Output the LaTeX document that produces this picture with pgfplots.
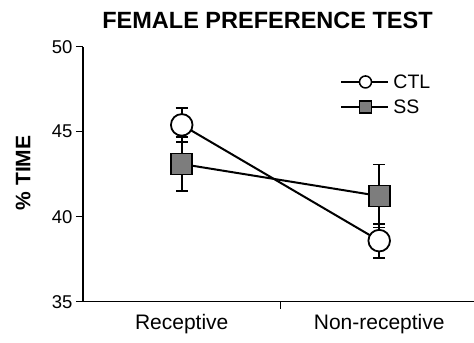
\documentclass[border=0pt]{standalone}
\usepackage{pgfplots}
\pgfplotsset{compat=1.18}
\usepackage{fontspec}
\setmainfont{Liberation Sans}
\definecolor{sqgray}{RGB}{125,125,125}
\begin{document}
\begin{tikzpicture}
\begin{axis}[
  scale only axis,
  width=391bp, height=255bp,
  xmin=-0.5, xmax=1.48,
  ymin=35, ymax=50,
  axis x line=bottom, axis y line=left,
  axis line style={-, line width=1.4bp},
  ytick={35,40,45,50},
  xtick={0.5}, xticklabels={},
  extra x ticks={0,1},
  extra x tick labels={Receptive,Non-receptive},
  extra x tick style={major tick length=0pt, tick label style={font=\fontsize{21bp}{24bp}\selectfont, yshift=-9bp}},
  tick align=outside,
  major tick length=7bp,
  tick style={line width=1.4bp, black},
  yticklabel style={font=\fontsize{18.5bp}{21bp}\selectfont},
  /pgf/number format/assume math mode=true,
  ylabel={\textbf{\% TIME}},
  ylabel style={font=\fontsize{21bp}{24bp}\selectfont, at={(axis description cs:-0.153,0.505)}, anchor=center},
  clip=false,
  legend style={draw=none, fill=none, at={(axis description cs:0.658,0.9)}, anchor=north west, font=\fontsize{19.5bp}{22bp}\selectfont, inner sep=0pt, row sep=6bp, legend cell align=left, nodes={inner xsep=4bp}},
]
\coordinate (sw) at (rel axis cs:0,0);
\addplot[black, line width=2bp, mark=*, mark size=10.8bp, mark options={fill=white, line width=1.8bp},
  legend image code/.code={
    \draw[black, line width=2bp] (0bp,0bp) -- (47bp,0bp);
    \draw[black, fill=white, line width=1.5bp] (24bp,0bp) circle (6bp);},
  error bars/.cd, y dir=both, y explicit, error bar style={line width=1.8bp}, error mark options={rotate=90, mark size=6bp, line width=1.8bp}]
  coordinates {(0,45.4) +- (0,1.0) (1,38.59) +- (0,1.0)};
\addlegendentry{CTL}
\addplot[black, line width=2bp, mark=square*, mark size=10.5bp, mark options={fill=sqgray, line width=1.8bp},
  legend image code/.code={
    \draw[black, line width=2bp] (0bp,0bp) -- (47bp,0bp);
    \draw[black, fill=sqgray, line width=1.5bp] (18bp,-6bp) rectangle (30bp,6bp);},
  error bars/.cd, y dir=both, y explicit, error bar style={line width=1.8bp}, error mark options={rotate=90, mark size=6bp, line width=1.8bp}]
  coordinates {(0,43.1) +- (0,1.6) (1,41.22) +- (0,1.85)};
\addlegendentry{SS}
\end{axis}
\node[font=\fontsize{23.5bp}{26bp}\selectfont\bfseries] at ([shift={(184.5bp,281.2bp)}]sw) {FEMALE PREFERENCE TEST};
\pgfresetboundingbox
\path ([shift={(-83bp,-41.3bp)}]sw) rectangle ++(474bp,343bp);
\end{tikzpicture}
\end{document}
